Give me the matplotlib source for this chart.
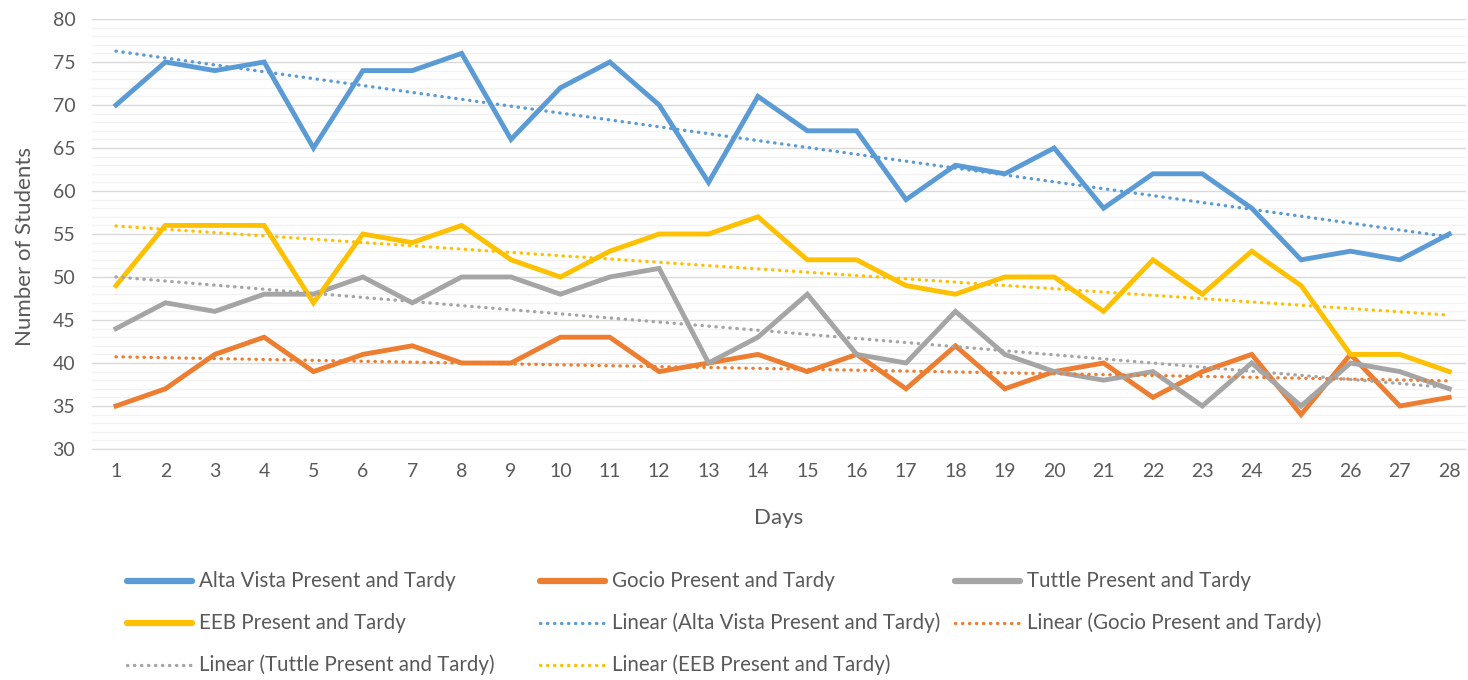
import numpy as np
import matplotlib
matplotlib.use("Agg")
import matplotlib.pyplot as plt
from matplotlib.lines import Line2D
from matplotlib.ticker import MultipleLocator

days = list(range(1, 29))
alta_vista = [70, 75, 74, 75, 65, 74, 74, 76, 66, 72, 75, 70, 61, 71, 67, 67, 59, 63, 62, 65, 58, 62, 62, 58, 52, 53, 52, 55]
gocio = [35, 37, 41, 43, 39, 41, 42, 40, 40, 43, 43, 39, 40, 41, 39, 41, 37, 42, 37, 39, 40, 36, 39, 41, 34, 41, 35, 36]
tuttle = [44, 47, 46, 48, 48, 50, 47, 50, 50, 48, 50, 51, 40, 43, 48, 41, 40, 46, 41, 39, 38, 39, 35, 40, 35, 40, 39, 37]
eeb = [49, 56, 56, 56, 47, 55, 54, 56, 52, 50, 53, 55, 55, 57, 52, 52, 49, 48, 50, 50, 46, 52, 48, 53, 49, 41, 41, 39]

names = ["Alta Vista Present and Tardy", "Gocio Present and Tardy",
         "Tuttle Present and Tardy", "EEB Present and Tardy"]
series = [alta_vista, gocio, tuttle, eeb]
colors = ["#5B9BD5", "#ED7D31", "#A5A5A5", "#FFC000"]

plt.rcParams['font.family'] = ['Lato', 'DejaVu Sans']
txt = "#595959"

fig = plt.figure(figsize=(14.68, 6.8), dpi=100)
ax = fig.add_axes([92/1468, 1-449/680, (1466-92)/1468, (449-19)/680])

x = np.array(days)
for vals, c in zip(series, colors):
    ax.plot(x, vals, color=c, lw=3.5, solid_joinstyle='miter', zorder=3)
for vals, c in zip(series, colors):
    k, b = np.polyfit(x, vals, 1)
    ax.plot(x, k*x + b, color=c, lw=2.4, linestyle=(0, (0.1, 2.0)),
            dash_capstyle='round', zorder=4)

ax.set_xlim(0.514, 28.34)
ax.set_ylim(30, 80)
ax.yaxis.set_major_locator(MultipleLocator(5))
ax.yaxis.set_minor_locator(MultipleLocator(1))
ax.set_xticks(days)
ax.grid(axis='y', which='major', color='#D9D9D9', lw=1.0, zorder=0)
ax.grid(axis='y', which='minor', color='#F2F2F2', lw=1.0, zorder=0)
ax.set_axisbelow(True)
for s in ['top', 'right', 'left']:
    ax.spines[s].set_visible(False)
ax.spines['bottom'].set_color('#D9D9D9')
ax.tick_params(axis='both', which='both', length=0, labelsize=14, colors=txt)
ax.tick_params(axis='x', pad=10)
ax.tick_params(axis='y', pad=12)
ax.set_xlabel("Days", fontsize=16, color=txt, labelpad=20)
ax.set_ylabel("Number of Students", fontsize=16, color=txt)
ax.yaxis.set_label_coords(-0.0415, 0.47)

entries = []
for n, c in zip(names, colors):
    entries.append((n, c, '-', 4.5))
for n, c in zip(names, colors):
    entries.append(("Linear (" + n + ")", c, (0, (0.1, 2.0)), 2.4))
col_x = [127, 540, 955]
row_y = [581, 623, 665]
for i, (lab, c, ls, lw) in enumerate(entries):
    r, cidx = divmod(i, 3)
    x0 = col_x[cidx]; y0 = row_y[r]
    fig.add_artist(Line2D([x0/1468, (x0+65)/1468], [1-y0/680, 1-y0/680],
                          color=c, lw=lw, linestyle=ls,
                          solid_capstyle='round', dash_capstyle='round'))
    fig.text((x0+72)/1468, 1-y0/680, lab, fontsize=14.8, color=txt,
             va='center', ha='left')

fig.savefig("out.png", dpi=100)
